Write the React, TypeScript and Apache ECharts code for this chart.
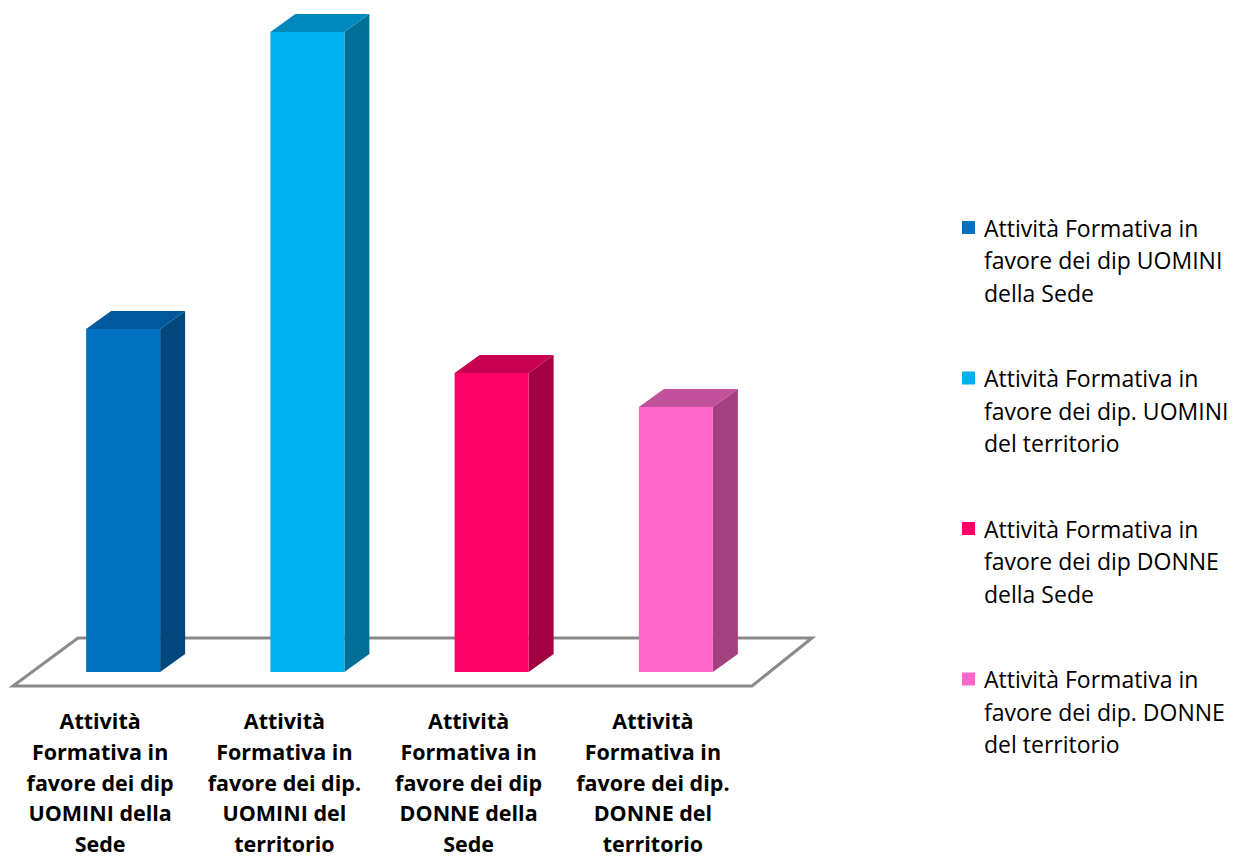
import React, { useEffect, useRef } from "react";
import * as echarts from "echarts";

const categories = [
  "Attività\nFormativa in\nfavore dei dip\nUOMINI della\nSede",
  "Attività\nFormativa in\nfavore dei dip.\nUOMINI del\nterritorio",
  "Attività\nFormativa in\nfavore dei dip\nDONNE della\nSede",
  "Attività\nFormativa in\nfavore dei dip.\nDONNE del\nterritorio",
];
const seriesNames = [
  "Attività Formativa in favore dei dip UOMINI della Sede",
  "Attività Formativa in favore dei dip. UOMINI del territorio",
  "Attività Formativa in favore dei dip DONNE della Sede",
  "Attività Formativa in favore dei dip. DONNE del territorio",
];
const legendLines = [
  ["Attività Formativa in", "favore dei dip UOMINI", "della Sede"],
  ["Attività Formativa in", "favore dei dip. UOMINI", "del territorio"],
  ["Attività Formativa in", "favore dei dip DONNE", "della Sede"],
  ["Attività Formativa in", "favore dei dip. DONNE", "del territorio"],
];
const values = [53.6, 100, 46.7, 41.4];
const frontColors = ["#0070C0", "#00B0F0", "#FF0066", "#FF66CC"];
const topColors = ["#00599C", "#0089BB", "#C80050", "#C2519C"];
const sideColors = ["#00477D", "#006F98", "#A30041", "#A3407F"];

export default function App() {
  const ref = useRef<HTMLDivElement>(null);
  useEffect(() => {
    const chart = echarts.init(ref.current!, null, { renderer: "svg" });
    const DX = 25;
    const DY = -18;
    const W = 74;
    const OFF = -14;
    const series = seriesNames.map((name, i) => ({
      type: "custom",
      name,
      itemStyle: { color: frontColors[i] },
      data: [[i, values[i]]],
      renderItem: (params: any, api: any) => {
        const idx = api.value(0);
        const v = api.value(1);
        const base = api.coord([idx, 0]);
        const top = api.coord([idx, v]);
        const x0 = base[0] + OFF;
        const x1 = x0 + W;
        const yb = base[1];
        const yt = top[1];
        return {
          type: "group",
          children: [
            {
              type: "polygon",
              shape: { points: [[x1, yb], [x1 + DX, yb + DY], [x1 + DX, yt + DY], [x1, yt]] },
              style: { fill: sideColors[i] },
            },
            {
              type: "polygon",
              shape: { points: [[x0, yt], [x1, yt], [x1 + DX, yt + DY], [x0 + DX, yt + DY]] },
              style: { fill: topColors[i] },
            },
            {
              type: "rect",
              shape: { x: x0, y: yt, width: W, height: yb - yt },
              style: { fill: frontColors[i] },
            },
          ],
        };
      },
    }));
    const rich: any = {
      s: { width: 13, height: 13 },
      t: { fontSize: 23, lineHeight: 32.5, fontFamily: "Open Sans", color: "#000", padding: [0, 0, 0, 9] },
    };
    frontColors.forEach((c, i) => {
      rich["m" + i] = { width: 13, height: 13, backgroundColor: c };
    });
    chart.setOption({
      animation: false,
      backgroundColor: "#ffffff",
      grid: { left: 8, right: 493, top: 0, bottom: 189 },
      xAxis: {
        type: "category",
        data: categories,
        axisLine: { show: false },
        axisTick: { show: false },
        axisLabel: {
          interval: 0,
          margin: 33,
          fontFamily: "Open Sans",
          fontWeight: "bold",
          fontSize: 21.5,
          lineHeight: 30.8,
          color: "#000",
        },
      },
      yAxis: { type: "value", min: 0, max: 105, show: false },
      legend: {
        orient: "vertical",
        left: 952,
        top: 211,
        icon: "none",
        itemWidth: 0,
        itemHeight: 13,
        itemGap: 62.5,
        data: seriesNames,
        formatter: (name: string) => {
          const i = seriesNames.indexOf(name);
          const l = legendLines[i];
          return `{m${i}|}{t|${l[0]}}\n{s|}{t|${l[1]}}\n{s|}{t|${l[2]}}`;
        },
        textStyle: { rich },
      },
      graphic: [
        {
          type: "polygon",
          z: -1,
          shape: { points: [[13, 686], [752, 686], [812, 638], [78, 638]] },
          style: { fill: "#ffffff", stroke: "#8a8a8a", lineWidth: 3 },
        },
      ],
      series,
    });
    return () => chart.dispose();
  }, []);
  return (
    <div
      ref={ref}
      style={{ position: "absolute", left: 0, top: 0, width: 1238, height: 861 }}
    />
  );
}
